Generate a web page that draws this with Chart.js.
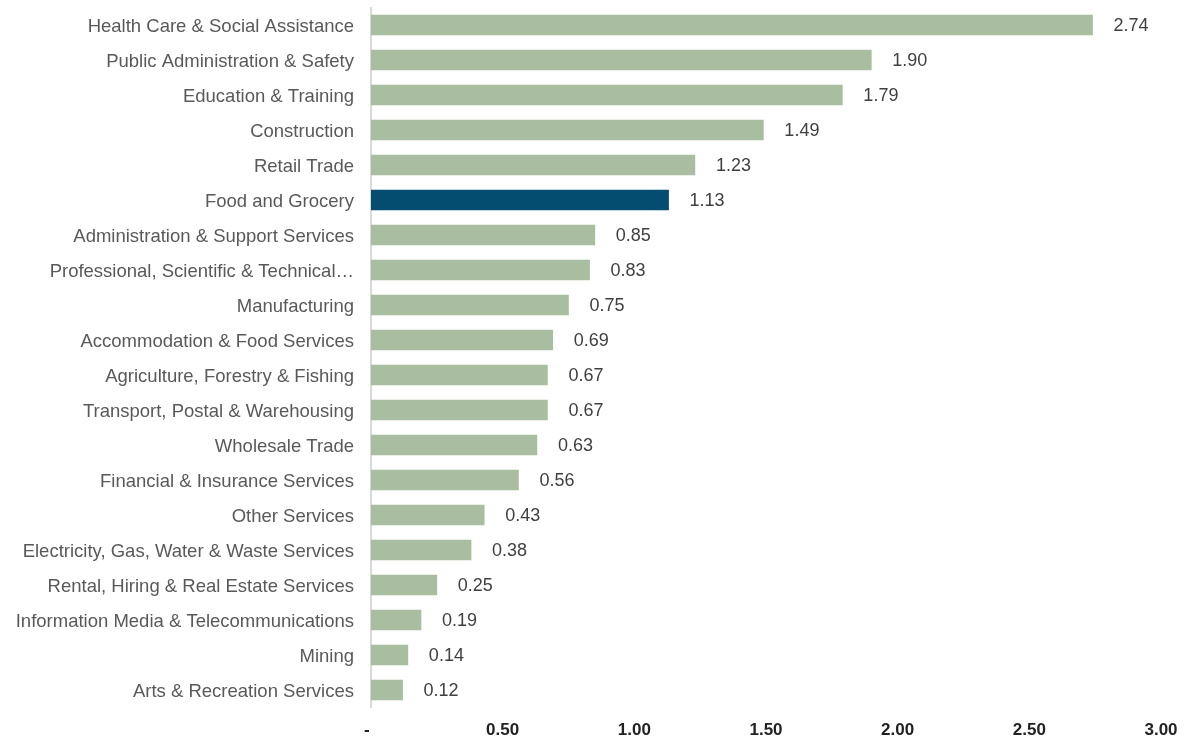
<!DOCTYPE html>
<html>
<head>
<meta charset="utf-8">
<script src="https://cdn.jsdelivr.net/npm/chart.js@4"></script>
<style>
html,body{margin:0;padding:0;background:#fff;}
#wrap{width:1185px;height:738px;}
</style>
</head>
<body>
<div id="wrap"><canvas id="c" width="1185" height="738"></canvas></div>
<script>
const categories = [
  "Health Care & Social Assistance",
  "Public Administration & Safety",
  "Education & Training",
  "Construction",
  "Retail Trade",
  "Food and Grocery",
  "Administration & Support Services",
  "Professional, Scientific & Technical\u2026",
  "Manufacturing",
  "Accommodation & Food Services",
  "Agriculture, Forestry & Fishing",
  "Transport, Postal & Warehousing",
  "Wholesale Trade",
  "Financial & Insurance Services",
  "Other Services",
  "Electricity, Gas, Water & Waste Services",
  "Rental, Hiring & Real Estate Services",
  "Information Media & Telecommunications",
  "Mining",
  "Arts & Recreation Services"
];
const values = [2.74, 1.90, 1.79, 1.49, 1.23, 1.13, 0.85, 0.83, 0.75, 0.69, 0.67, 0.67, 0.63, 0.56, 0.43, 0.38, 0.25, 0.19, 0.14, 0.12];
const highlightCategory = "Food and Grocery";
const xTicks = [0, 0.5, 1.0, 1.5, 2.0, 2.5, 3.0];

const baseColor = "#a9bea1";
const highlightColor = "#054c71";
const FONT = "'Liberation Sans', Arial, sans-serif";

const dataLabels = {
  id: "dataLabels",
  afterDatasetsDraw(chart) {
    const ctx = chart.ctx;
    const meta = chart.getDatasetMeta(0);
    ctx.save();
    ctx.font = "18px " + FONT;
    ctx.fillStyle = "#404040";
    ctx.textAlign = "left";
    ctx.textBaseline = "middle";
    meta.data.forEach((bar, i) => {
      ctx.fillText(values[i].toFixed(2), bar.x + 21, bar.y + 1.5);
    });
    ctx.restore();
  }
};

new Chart(document.getElementById("c"), {
  type: "bar",
  data: {
    labels: categories,
    datasets: [{
      data: values,
      backgroundColor: categories.map(c => c === highlightCategory ? highlightColor : baseColor),
      barThickness: 20,
      borderWidth: 0
    }]
  },
  options: {
    indexAxis: "y",
    responsive: false,
    animation: false,
    layout: { padding: { top: 7.5, right: 24, left: 0, bottom: 0 } },
    plugins: { legend: { display: false }, tooltip: { enabled: false } },
    scales: {
      x: {
        min: 0, max: 3,
        afterBuildTicks(axis) { axis.ticks = xTicks.map(v => ({ value: v })); },
        afterFit(axis) { axis.height = 30.5; axis.paddingLeft = 0; axis.paddingRight = 0; },
        grid: { display: false, drawTicks: false },
        border: { display: false },
        ticks: {
          padding: 13,
          color: "#222222",
          font: { family: FONT, size: 17, weight: "bold" },
          maxRotation: 0,
          callback: v => v === 0 ? "-\u2002" : Number(v).toFixed(2)
        }
      },
      y: {
        afterFit(axis) { axis.width = 371; axis.paddingTop = 0; axis.paddingBottom = 0; },
        grid: { display: false, drawTicks: false },
        border: { display: true, color: "#d9d9d9", width: 2 },
        ticks: {
          padding: 17,
          labelOffset: 1.5,
          color: "#595959",
          autoSkip: false,
          font: { family: FONT, size: 18.5 }
        }
      }
    }
  },
  plugins: [dataLabels]
});
</script>
</body>
</html>
